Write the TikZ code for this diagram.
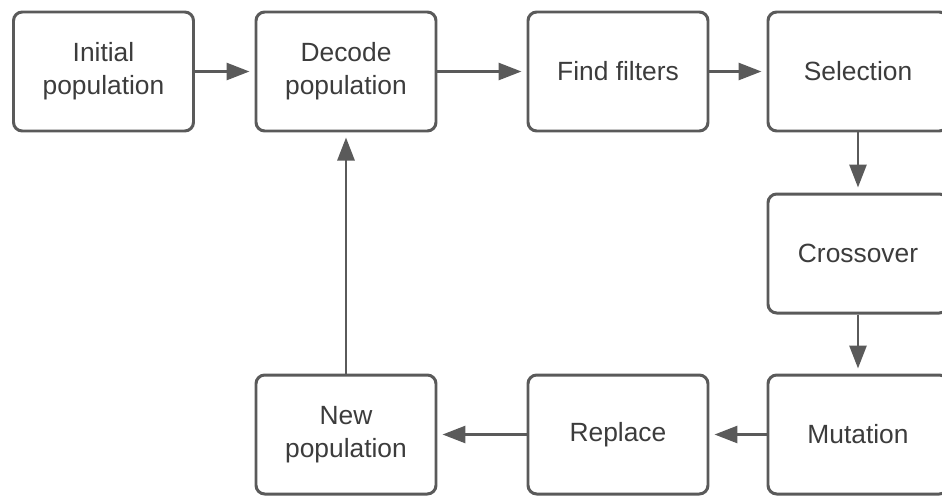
\documentclass[tikz,border=0pt]{standalone}
\usepackage{fontspec}
\setmainfont{Liberation Sans}
\usepackage{xcolor}
\usetikzlibrary{arrows.meta}

\definecolor{linegray}{HTML}{5A5A5A}
\definecolor{textgray}{HTML}{3C3C3C}

\begin{document}
\begin{tikzpicture}[
    stepbox/.style={
        draw=linegray, line width=1.7pt, rounded corners=5pt, fill=white,
        minimum width=3.6cm, minimum height=2.38cm,
        align=center, text=textgray,
        font=\fontsize{15}{18.8}\selectfont
    },
    arrow/.style={-{Triangle[length=0.46cm, width=0.34cm]}, line width=1.6pt,
                  draw=linegray, fill=linegray, shorten >=0.1cm},
]
    \useasboundingbox (0,0) rectangle (18.84,-9.92);

    % top row, left to right
    \node[stepbox] (init)    at (2.07,-1.43)  {Initial\\population};
    \node[stepbox] (decode)  at (6.92,-1.43)  {Decode\\population};
    \node[stepbox] (filters) at (12.36,-1.43) {Find filters};
    \node[stepbox] (select)  at (17.16,-1.43) {Selection};

    % right column going down
    \node[stepbox] (cross)   at (17.16,-5.07) {Crossover};
    \node[stepbox] (mutate)  at (17.16,-8.69) {Mutation};

    % bottom row, right to left
    \node[stepbox] (replace) at (12.36,-8.69) {Replace};
    \node[stepbox] (newpop)  at (6.92,-8.69)  {New\\population};

    % arrows along the loop
    \draw[arrow] (init) -- (decode);
    \draw[arrow] (decode) -- (filters);
    \draw[arrow] (filters) -- (select);
    \draw[arrow] (select) -- (cross);
    \draw[arrow] (cross) -- (mutate);
    \draw[arrow] (mutate) -- (replace);
    \draw[arrow] (replace) -- (newpop);
    \draw[arrow] (newpop) -- (decode);
\end{tikzpicture}
\end{document}
